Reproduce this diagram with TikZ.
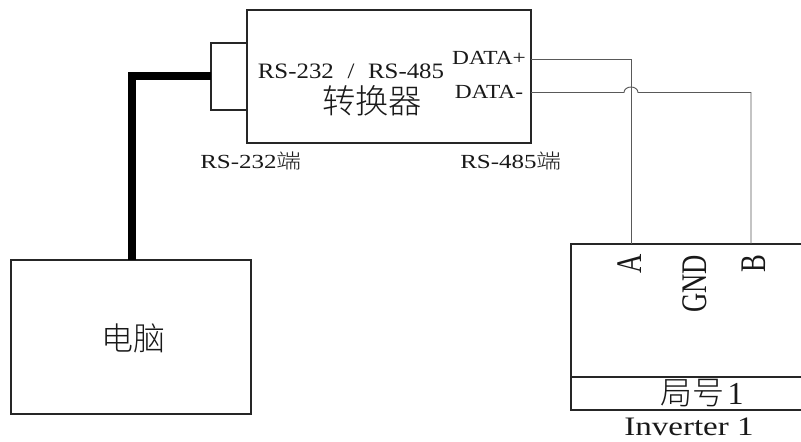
\documentclass[tikz,border=0pt]{standalone}
\usepackage{fontspec}
\setmainfont{Liberation Serif}
\newfontfamily\cjk{Noto Sans CJK SC Light}
\newcommand{\hs}[2]{\scalebox{#1}[1]{#2}}
\tikzset{
  px/.style={x=0.75pt,y=-0.75pt},
  boxline/.style={draw=black!85,line width=1pt},
  wire/.style={draw=black!65,line width=0.7pt},
  txt/.style={inner sep=0pt,outer sep=0pt,text=black!90},
}
\begin{document}
\begin{tikzpicture}[px]
\useasboundingbox (0,0) rectangle (801,442);
% converter
\coordinate (convNW) at (247,10);
\coordinate (convSE) at (531,143);
\draw[boxline] (convNW) rectangle (convSE);
% connector block
\coordinate (portNW) at (211,43);
\coordinate (portSE) at (247,110);
\draw[boxline] (portNW) rectangle (portSE);
% computer
\coordinate (pcNW) at (11,260);
\coordinate (pcSE) at (251,414);
\draw[boxline] (pcNW) rectangle (pcSE);
% inverter
\coordinate (invNW) at (571,244);
\coordinate (invSW) at (571,410);
\coordinate (invML) at (571,377);
\draw[boxline] (801,244) -- (invNW) -- (invSW) -- (801,410);
\draw[boxline] (invML) -- (801,377);
% thick cable
\coordinate (cableA) at (211,76);
\coordinate (cableB) at (131.5,76);
\coordinate (cableC) at (131.5,260);
\draw[line width=6pt,black,line join=miter] (cableA) -- (cableB) -- (cableC);
% data wires
\coordinate (dpA) at (531,59);
\coordinate (dpB) at (631,59);
\coordinate (dpC) at (631,244);
\coordinate (dmA) at (531,92.5);
\coordinate (dmH1) at (624,92.5);
\coordinate (dmB) at (751,92.5);
\coordinate (dmC) at (751,244);
\draw[wire] (dpA) -- (dpB) -- (dpC);
\draw[wire] (dmA) -- (dmH1) arc[start angle=180,end angle=360,x radius=7,y radius=5.5] -- (dmB) -- (dmC);
% labels
\node[txt,font=\fontsize{16.5pt}{19pt}\selectfont] (l1) at (351,71) {\hs{1.13}{RS-232\hspace{0.55em}/\hspace{0.55em}RS-485}};
\node[txt,font=\fontsize{25pt}{28pt}\cjk] (l2) at (372,101) {转换器};
\node[txt,font=\fontsize{15pt}{18pt}\selectfont] (l3) at (489,58) {\hs{1.17}{DATA+}};
\node[txt,font=\fontsize{15pt}{18pt}\selectfont] (l4) at (489,92) {\hs{1.17}{DATA-}};
\node[txt,font=\fontsize{15pt}{18pt}\selectfont] (l5) at (251,161) {\hs{1.25}{RS-232{\cjk 端}}};
\node[txt,font=\fontsize{15pt}{18pt}\selectfont] (l6) at (511,161) {\hs{1.25}{RS-485{\cjk 端}}};
\node[txt,font=\fontsize{24pt}{27pt}\cjk] (l7) at (133,338) {电脑};
\node[txt,font=\fontsize{27pt}{30pt}\selectfont,rotate=90] (l8) at (630,264) {\hs{0.74}{A}};
\node[txt,font=\fontsize{27pt}{30pt}\selectfont,rotate=90] (l9) at (695,284) {\hs{0.74}{GND}};
\node[txt,font=\fontsize{27pt}{30pt}\selectfont,rotate=90] (l10) at (754,264) {\hs{0.74}{B}};
\node[txt,font=\fontsize{24pt}{27pt}\selectfont] (l11) at (702,393) {{\cjk 局号}\hspace{0.1em}1};
\node[txt,font=\fontsize{20pt}{23pt}\selectfont] (l12) at (689,427) {\hs{1.24}{Inverter 1}};
\end{tikzpicture}
\end{document}
